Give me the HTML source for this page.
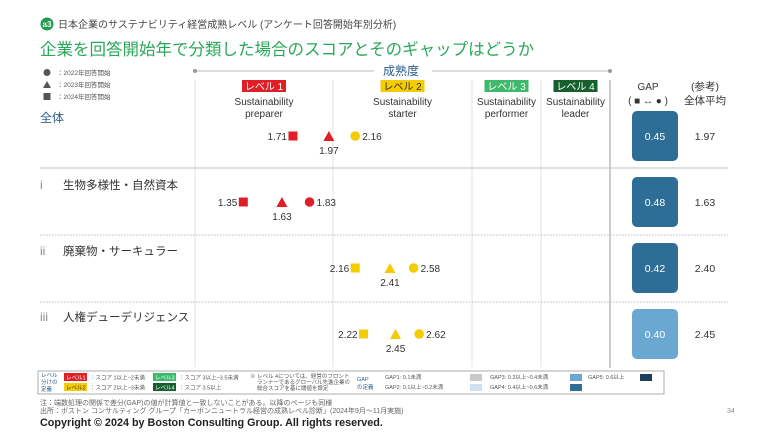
<!DOCTYPE html>
<html><head><meta charset="utf-8"><style>
body{margin:0;background:#fff;width:768px;height:432px;overflow:hidden;font-family:"Liberation Sans","Noto Sans CJK JP",sans-serif}
svg text{font-family:"Liberation Sans","Noto Sans CJK JP",sans-serif}
</style></head><body>
<svg id="c" width="768" height="432" viewBox="0 0 768 432">
<g>
<circle cx="47" cy="24" r="6.5" fill="#1e9e4e"/>
<text x="47" y="27" font-size="8" fill="#fff" text-anchor="middle" font-weight="bold">a3</text>
<text x="58" y="28" font-size="10" fill="#444">日本企業のサステナビリティ経営成熟レベル (アンケート回答開始年別分析)</text>
<text x="40" y="55" font-size="16.5" fill="#2aa85a">企業を回答開始年で分類した場合のスコアとそのギャップはどうか</text>
</g>
<g font-size="6.5" fill="#555">
<circle cx="47" cy="72.5" r="3.5" fill="#555"/><text x="57" y="75">：2022年回答開始</text>
<polygon points="47,81 43,88 51,88" fill="#555"/><text x="57" y="87">：2023年回答開始</text>
<rect x="43.5" y="93" width="7" height="7" fill="#555"/><text x="57" y="99">：2024年回答開始</text>
</g>
<g>
<line x1="195" y1="71" x2="374" y2="71" stroke="#bbb"/><circle cx="195" cy="71" r="2" fill="#999"/>
<text x="383" y="75" font-size="12" fill="#2c5e8c">成熟度</text>
<line x1="432" y1="71" x2="610" y2="71" stroke="#bbb"/><circle cx="610" cy="71" r="2" fill="#999"/>
</g>
<g id="grid"></g>
<g id="heads" font-size="10" fill="#333" text-anchor="middle"></g>
<g id="rows"></g>
<text x="648" y="90" font-size="10" fill="#333" text-anchor="middle">GAP</text>
<text x="648" y="104" font-size="10" fill="#333" text-anchor="middle">( ■ ↔ ● )</text>
<text x="705" y="90" font-size="10.5" fill="#333" text-anchor="middle">(参考)</text>
<text x="705" y="104" font-size="10.5" fill="#333" text-anchor="middle">全体平均</text>
<g font-size="5.5" fill="#555">
<rect x="38" y="371" width="626" height="23" fill="none" stroke="#999" stroke-width="0.8"/>
<text x="41" y="377" fill="#2c5e8c">レベル</text><text x="41" y="384" fill="#2c5e8c">分けの</text><text x="41" y="391" fill="#2c5e8c">定義</text>
<rect x="64" y="373" width="23" height="8" fill="#e01e26"/><text x="66" y="379.5" fill="#fff">レベル1</text><text x="90" y="379.5">：スコア 1以上~2未満</text>
<rect x="64" y="383" width="23" height="8" fill="#f5cc00"/><text x="66" y="389.5" fill="#333">レベル2</text><text x="90" y="389.5">：スコア 2以上~3未満</text>
<rect x="153" y="373" width="23" height="8" fill="#3cb96a"/><text x="155" y="379.5" fill="#fff">レベル3</text><text x="179" y="379.5">：スコア 3以上~3.5未満</text>
<rect x="153" y="383" width="23" height="8" fill="#17602e"/><text x="155" y="389.5" fill="#fff">レベル4</text><text x="179" y="389.5">：スコア 3.5以上</text>
<text x="250" y="378">※ レベル 4については、経営のフロント</text><text x="257" y="384">ランナーであるグローバル先進企業の</text><text x="257" y="390">総合スコアを基に閾値を設定</text>
<text x="357" y="381" fill="#2c5e8c">GAP</text><text x="357" y="389" fill="#2c5e8c">の定義</text>
<text x="385" y="379">GAP1: 0.1未満</text><text x="385" y="389">GAP2: 0.1以上~0.2未満</text>
<rect x="470" y="374" width="12" height="7" fill="#c8c8c8"/><text x="490" y="379">GAP3: 0.2以上~0.4未満</text>
<rect x="470" y="384" width="12" height="7" fill="#cfe0ee"/><text x="490" y="389">GAP4: 0.4以上~0.6未満</text>
<rect x="570" y="374" width="12" height="7" fill="#6aa7d1"/><text x="588" y="379">GAP5: 0.6以上</text>
<rect x="570" y="384" width="12" height="7" fill="#2e6e96"/>
<rect x="640" y="374" width="12" height="7" fill="#1c3f5e"/>
</g>
<text x="40" y="405" font-size="7" fill="#666">注：端数処理の関係で差分(GAP)の値が計算値と一致しないことがある。以降のページも同様</text>
<text x="40" y="413" font-size="7" fill="#666">出所：ボストン コンサルティング グループ「カーボンニュートラル経営の成熟レベル診断」(2024年9月～11月実施)</text>
<text x="727" y="413" font-size="7" fill="#888">34</text>
<text x="40" y="426" font-size="10.8" fill="#222" font-weight="bold">Copyright © 2024 by Boston Consulting Group. All rights reserved.</text>
</svg>
<script>
const categories=["全体","生物多様性・自然資本","廃棄物・サーキュラー","人権デューデリジェンス"];
const numerals=["","i","ii","iii"];
const score2022=[2.16,1.83,2.58,2.62];
const score2023=[1.97,1.63,2.41,2.45];
const score2024=[1.71,1.35,2.16,2.22];
const gaps=[0.45,0.48,0.42,0.40];
const averages=[1.97,1.63,2.40,2.45];
const levelBounds=[1,2,3,3.5,4];
const levelNames=["レベル 1","レベル 2","レベル 3","レベル 4"];
const levelDesc=[["Sustainability","preparer"],["Sustainability","starter"],["Sustainability","performer"],["Sustainability","leader"]];

const NS="http://www.w3.org/2000/svg";
function mk(p,t,a,txt){const e=document.createElementNS(NS,t);for(const k in a)e.setAttribute(k,a[k]);if(txt!=null)e.textContent=txt;p.appendChild(e);return e;}
const px=[195,333,472,541,610];
function x(v){for(let i=0;i<4;i++){if(v<=levelBounds[i+1]||i==3){return px[i]+(v-levelBounds[i])/(levelBounds[i+1]-levelBounds[i])*(px[i+1]-px[i]);}}}
function rowY(i){return 136+i*66;}
function col(v){return v<2?"#e01e26":v<3?"#f5cc00":v<3.5?"#3cb96a":"#17602e";}
const lvlFill=["#e01e26","#f5cc00","#3cb96a","#17602e"],lvlText=["#fff","#333","#fff","#fff"];
const grid=document.getElementById('grid'),heads=document.getElementById('heads'),rows=document.getElementById('rows');
for(let i=0;i<4;i++){let l=mk(grid,'line',{x1:x(levelBounds[i]),y1:80,x2:x(levelBounds[i]),y2:367,stroke:'#e2e2e2'});

}
let vl=mk(grid,'line',{x1:610,y1:80,x2:610,y2:368,stroke:'#999'});


let s0=mk(grid,'line',{x1:40,y1:168,x2:728,y2:168,stroke:'#ccc','stroke-width':1.2});


for(let i=1;i<3;i++){let s=mk(grid,'line',{x1:40,y1:235+(i-1)*67,x2:728,y2:235+(i-1)*67,stroke:'#bbb','stroke-dasharray':'1.5,1.5'});

}
for(let i=0;i<4;i++){const cx=(x(levelBounds[i])+x(levelBounds[i+1]))/2;
const g=mk(heads,'g',{});


mk(g,'rect',{x:cx-22,y:80,width:44,height:12,fill:lvlFill[i]});
mk(g,'text',{x:cx,y:90,fill:lvlText[i],'font-size':10},levelNames[i]);
mk(g,'text',{x:cx,y:105},levelDesc[i][0]);mk(g,'text',{x:cx,y:117},levelDesc[i][1]);}
categories.forEach((c,i)=>{const y=rowY(i);const g=mk(rows,'g',{});


if(i==0)mk(g,'text',{x:40,y:122,'font-size':12,fill:'#2c5e8c'},c);
else{mk(g,'text',{x:40,y:y-13,'font-size':12,fill:'#888'},numerals[i]);mk(g,'text',{x:63,y:y-13,'font-size':11.5,fill:'#333'},c);}
let v=score2024[i],xx=x(v);
let sq=mk(g,'rect',{x:xx-4.5,y:y-4.5,width:9,height:9,fill:col(v)});


mk(g,'text',{x:xx-6,y:y+4,'font-size':10,fill:'#333','text-anchor':'end'},v.toFixed(2));
v=score2023[i];xx=x(v);
let tr=mk(g,'polygon',{points:`${xx},${y-5} ${xx-5.5},${y+5} ${xx+5.5},${y+5}`,fill:col(v)});


mk(g,'text',{x:xx,y:y+18,'font-size':10,fill:'#333','text-anchor':'middle'},v.toFixed(2));
v=score2022[i];xx=x(v);
let ci=mk(g,'circle',{cx:xx,cy:y,r:4.8,fill:col(v)});


mk(g,'text',{x:xx+7,y:y+4,'font-size':10,fill:'#333'},v.toFixed(2));
const gp=gaps[i];
let b=mk(g,'rect',{x:632,y:y-25,width:46,height:50,rx:5,fill:gp>0.405?'#2e6e96':'#6aa7d1'});


mk(g,'text',{x:655,y:y+4,'font-size':10.5,fill:'#fff','text-anchor':'middle'},gp.toFixed(2));
mk(g,'text',{x:705,y:y+4,'font-size':10.5,fill:'#333','text-anchor':'middle'},averages[i].toFixed(2));
});
</script>
</body></html>
